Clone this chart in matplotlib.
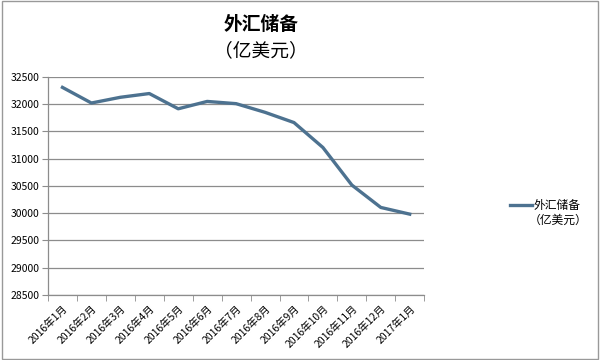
import matplotlib.pyplot as plt
import numpy as np

plt.rcParams["font.family"] = ["Noto Sans CJK SC", "DejaVu Sans"]

# 数据
months = ["2016年1月", "2016年2月", "2016年3月", "2016年4月", "2016年5月", "2016年6月",
          "2016年7月", "2016年8月", "2016年9月", "2016年10月", "2016年11月", "2016年12月",
          "2017年1月"]
reserves = [32310, 32023, 32128, 32197, 31917, 32052, 32011, 31852, 31664, 31206,
            30516, 30105, 29982]
y_ticks = [28500, 29000, 29500, 30000, 30500, 31000, 31500, 32000, 32500]

LINE_COLOR = "#4d7290"
GRID_COLOR = "#8c8c8c"

fig = plt.figure(figsize=(6, 3.6), dpi=100)
ax = fig.add_axes([0.08, 0.181, 0.627, 0.605])

x = np.arange(len(months))
ax.plot(x, reserves, color=LINE_COLOR, linewidth=2.4, label="外汇储备",
        solid_joinstyle="round")

ax.set_xlim(-0.5, len(months) - 0.5)
ax.set_ylim(28500, 32500)
ax.set_yticks(y_ticks)
ax.set_yticklabels([str(v) for v in y_ticks], fontsize=7.5)

# Excel 风格: 刻度在分类边界, 标签在中间
ax.set_xticks(np.arange(-0.5, len(months)), minor=True)
ax.set_xticks(x)
ax.set_xticklabels(months, rotation=45, ha="right", rotation_mode="anchor", fontsize=7.5)
ax.tick_params(axis="x", which="major", length=0, pad=6)
ax.tick_params(axis="x", which="minor", length=4, color=GRID_COLOR, direction="out")
ax.tick_params(axis="y", length=4, color=GRID_COLOR, direction="out", pad=2)

ax.grid(axis="y", color=GRID_COLOR, linewidth=0.9)
ax.set_axisbelow(True)
for side in ["top", "right"]:
    ax.spines[side].set_visible(False)
for side in ["left", "bottom"]:
    ax.spines[side].set_color(GRID_COLOR)
    ax.spines[side].set_linewidth(0.9)

fig.text(0.435, 0.932, "外汇储备", ha="center", va="center", fontsize=13.5, fontweight="bold")
fig.text(0.435, 0.86, "（亿美元）", ha="center", va="center", fontsize=13.5)

# 图例: 第一行跟线对齐, 第二行单独写
fig.legend(loc="center left", bbox_to_anchor=(0.832, 0.43), frameon=False,
           fontsize=8.5, handlelength=1.85, handletextpad=0.15)
fig.text(0.882, 0.388, "（亿美元）", ha="left", va="center", fontsize=8.5)

# 外框
fig.patches.append(plt.Rectangle((0.003, 0.003), 0.994, 0.994, transform=fig.transFigure,
                                 fill=False, edgecolor="#999999", linewidth=1))

plt.savefig("out.png", dpi=100)
